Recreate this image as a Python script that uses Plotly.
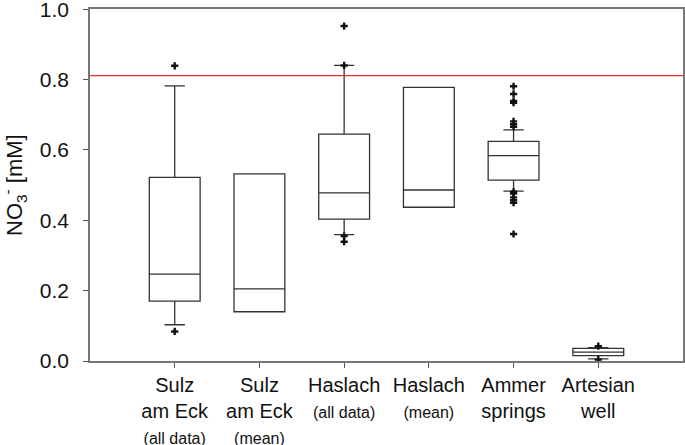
import plotly.graph_objects as go

# categories (x positions 1..6)
labels = [
    "Sulz<br>am Eck<br><span style='font-size:16px'>(all data)</span>",
    "Sulz<br>am Eck<br><span style='font-size:16px'>(mean)</span>",
    "Haslach<br><span style='font-size:16px'>(all data)</span>",
    "Haslach<br><span style='font-size:16px'>(mean)</span>",
    "Ammer<br>springs",
    "Artesian<br>well",
]
pos = [1, 2, 3, 4, 5, 6]

# box statistics, NO3- [mM]
q1 = [0.170, 0.140, 0.403, 0.437, 0.514, 0.015]
median = [0.247, 0.205, 0.478, 0.486, 0.584, 0.025]
q3 = [0.522, 0.532, 0.645, 0.778, 0.624, 0.036]
lowerfence = [0.103, 0.140, 0.359, 0.437, 0.483, 0.006]
upperfence = [0.782, 0.532, 0.840, 0.778, 0.657, 0.038]

# outliers
out_x = [1, 1,
         3, 3, 3, 3,
         5, 5, 5, 5, 5, 5, 5, 5, 5, 5, 5, 5, 5,
         6, 6]
out_y = [0.839, 0.084,
         0.952, 0.840, 0.355, 0.339,
         0.781, 0.759, 0.739, 0.734, 0.681, 0.673, 0.666,
         0.481, 0.476, 0.465, 0.457, 0.450, 0.361,
         0.042, 0.004]

# reference line
limit = 0.811

fig = go.Figure()

fig.add_trace(go.Box(
    x=pos, q1=q1, median=median, q3=q3,
    lowerfence=lowerfence, upperfence=upperfence,
    width=0.6, whiskerwidth=0.4,
    fillcolor='rgba(0,0,0,0)',
    line=dict(color='#333333', width=1.3),
    boxpoints=False, hoverinfo='skip', showlegend=False))

fig.add_trace(go.Scatter(
    x=out_x, y=out_y, mode='markers',
    marker=dict(symbol='cross', size=6, color='#111111'),
    showlegend=False, hoverinfo='skip'))

fig.add_shape(type='line', xref='paper', x0=0, x1=1, yref='y', y0=limit, y1=limit,
              line=dict(color='#e8302a', width=1.2))

# y axis title as an annotation so it can sit close to the page edge
fig.add_annotation(text='NO<sub>3</sub><sup>-</sup> [mM]', textangle=-90,
                   xref='paper', yref='paper', x=0, y=0.5,
                   xanchor='center', yanchor='middle', xshift=-76,
                   showarrow=False, font=dict(size=22))

fig.update_layout(
    width=685, height=445,
    margin=dict(l=90, r=2, t=9, b=84),
    plot_bgcolor='white', paper_bgcolor='white',
    font=dict(family='Arial, Liberation Sans, sans-serif', size=20, color='#111111'),
    xaxis=dict(range=[0, 7], tickvals=pos, ticktext=labels, automargin=False,
               ticklabeloverflow='allow',
               showgrid=False, zeroline=False,
               showline=True, linecolor='#777777', linewidth=1.5, mirror=True,
               ticks='outside', ticklen=5, tickcolor='#555555',
               tickfont=dict(size=20)),
    yaxis=dict(range=[0, 1.0005], tickvals=[0, 0.2, 0.4, 0.6, 0.8, 1.0],
               ticktext=['0.0', '0.2', '0.4', '0.6', '0.8', '1.0'], automargin=False,
               ticklabeloverflow='allow', ticklabelstandoff=10,
               showgrid=False, zeroline=False,
               showline=True, linecolor='#777777', linewidth=1.5, mirror=True,
               ticks='outside', ticklen=5, tickcolor='#555555',
               tickfont=dict(size=21)),
)

# page body has a default 8px margin; remove it so the figure sits at the corner
fig.write_html("out.html", config={'displayModeBar': False},
               post_script="document.body.style.margin='0';")
